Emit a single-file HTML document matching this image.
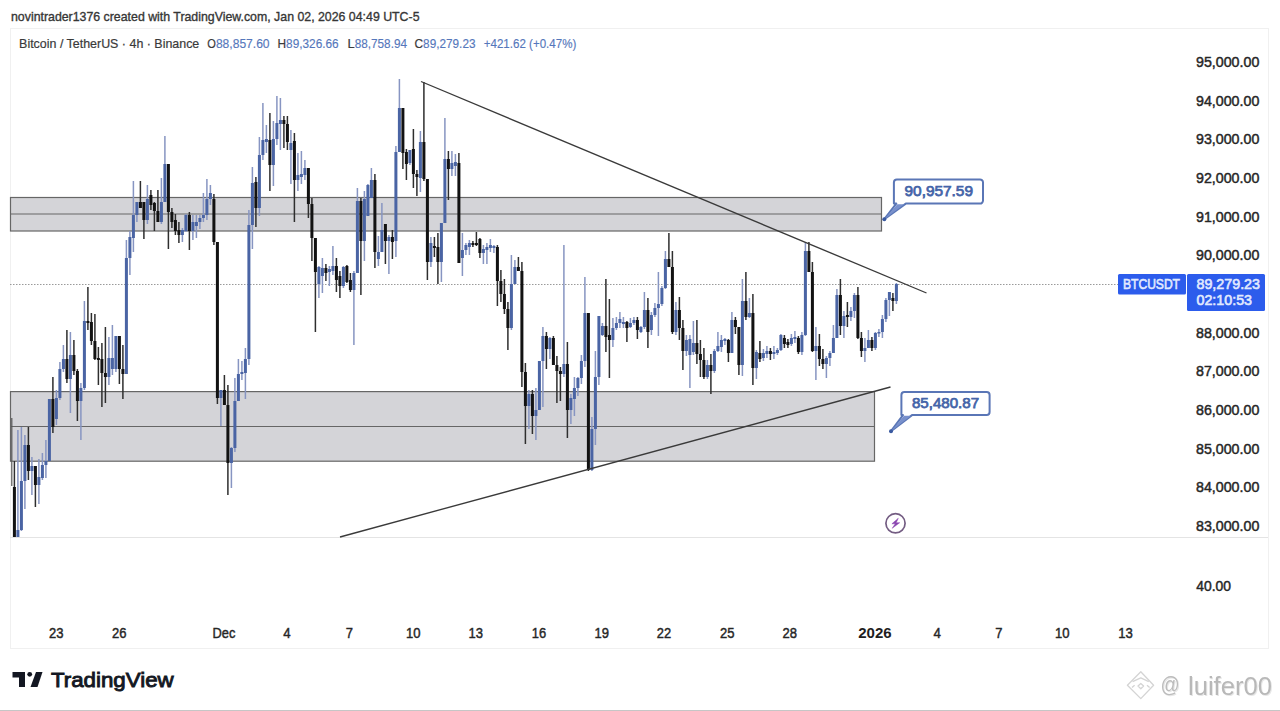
<!DOCTYPE html>
<html><head><meta charset="utf-8">
<style>
html,body{margin:0;padding:0;background:#fff;}
body{width:1280px;height:711px;overflow:hidden;position:relative;font-family:"Liberation Sans",sans-serif;color:#131722;}
svg text{font-family:"Liberation Sans",sans-serif;}
.tvtext{position:absolute;left:50px;top:666px;font-size:21px;font-weight:bold;color:#131722;letter-spacing:-0.2px;}
.wm{position:absolute;left:1186px;top:670px;font-size:25px;color:#b4b4b4;text-shadow:1px 1px 0 #e8e8e8;white-space:nowrap;}
.wmat{position:absolute;left:1159px;top:670px;font-size:22px;color:#b4b4b4;}
</style></head><body>
<svg width="1280" height="711" style="position:absolute;left:0;top:0">
<rect x="10.5" y="28.5" width="1258" height="620" fill="none" stroke="#f0f0f0" stroke-width="1"/>
<line x1="10" y1="537.5" x2="1268" y2="537.5" stroke="#e4e4e4" stroke-width="1"/>
<line x1="10" y1="284.5" x2="1118" y2="284.5" stroke="#9a9a9a" stroke-width="1" stroke-dasharray="1.5 1.5"/>
<rect x="10.5" y="197.5" width="871" height="33.5" fill="#d4d4d8" stroke="#666" stroke-width="1.2"/>
<line x1="10" y1="214" x2="881.5" y2="214" stroke="#666" stroke-width="1.2"/>
<rect x="10.5" y="391.6" width="864" height="69.6" fill="#d4d4d8" stroke="#666" stroke-width="1.2"/>
<line x1="10" y1="426.5" x2="874.5" y2="426.5" stroke="#666" stroke-width="1.2"/>
<rect x="11.2" y="418" width="1.2" height="68" fill="#555"/>
<rect x="13.65" y="461.0" width="1.5" height="76.0" fill="#2e2e2e"/>
<rect x="12.90" y="487.0" width="3.0" height="50.0" fill="#121212"/>
<rect x="17.15" y="430.0" width="1.5" height="107.0" fill="#8795c2"/>
<rect x="16.40" y="530.0" width="3.0" height="7.0" fill="#4a64a4"/>
<rect x="20.65" y="427.0" width="1.5" height="104.0" fill="#8795c2"/>
<rect x="19.90" y="481.0" width="3.0" height="49.0" fill="#4a64a4"/>
<rect x="24.15" y="435.0" width="1.5" height="74.0" fill="#8795c2"/>
<rect x="23.40" y="445.0" width="3.0" height="36.0" fill="#4a64a4"/>
<rect x="27.65" y="427.0" width="1.5" height="53.0" fill="#2e2e2e"/>
<rect x="26.90" y="445.0" width="3.0" height="26.0" fill="#121212"/>
<rect x="31.15" y="457.0" width="1.5" height="38.0" fill="#8795c2"/>
<rect x="30.40" y="466.0" width="3.0" height="5.0" fill="#4a64a4"/>
<rect x="34.65" y="466.0" width="1.5" height="41.0" fill="#2e2e2e"/>
<rect x="33.90" y="466.0" width="3.0" height="19.0" fill="#121212"/>
<rect x="38.15" y="459.0" width="1.5" height="45.0" fill="#8795c2"/>
<rect x="37.40" y="477.0" width="3.0" height="8.0" fill="#4a64a4"/>
<rect x="41.65" y="453.0" width="1.5" height="27.0" fill="#8795c2"/>
<rect x="40.90" y="465.0" width="3.0" height="13.0" fill="#4a64a4"/>
<rect x="45.15" y="440.0" width="1.5" height="38.0" fill="#8795c2"/>
<rect x="44.40" y="461.0" width="3.0" height="4.0" fill="#4a64a4"/>
<rect x="48.65" y="399.0" width="1.5" height="62.0" fill="#8795c2"/>
<rect x="47.90" y="399.0" width="3.0" height="62.0" fill="#4a64a4"/>
<rect x="52.15" y="377.0" width="1.5" height="56.0" fill="#2e2e2e"/>
<rect x="51.40" y="399.0" width="3.0" height="28.0" fill="#121212"/>
<rect x="55.65" y="390.0" width="1.5" height="35.0" fill="#8795c2"/>
<rect x="54.90" y="398.0" width="3.0" height="21.0" fill="#4a64a4"/>
<rect x="59.15" y="362.0" width="1.5" height="38.0" fill="#8795c2"/>
<rect x="58.40" y="369.0" width="3.0" height="29.0" fill="#4a64a4"/>
<rect x="62.65" y="345.0" width="1.5" height="27.0" fill="#8795c2"/>
<rect x="61.90" y="359.0" width="3.0" height="10.0" fill="#4a64a4"/>
<rect x="66.15" y="330.0" width="1.5" height="53.0" fill="#2e2e2e"/>
<rect x="65.40" y="359.0" width="3.0" height="20.0" fill="#121212"/>
<rect x="69.65" y="332.0" width="1.5" height="81.0" fill="#8795c2"/>
<rect x="68.90" y="355.0" width="3.0" height="24.0" fill="#4a64a4"/>
<rect x="73.15" y="340.0" width="1.5" height="35.0" fill="#2e2e2e"/>
<rect x="72.40" y="355.0" width="3.0" height="16.0" fill="#121212"/>
<rect x="76.65" y="369.0" width="1.5" height="52.0" fill="#2e2e2e"/>
<rect x="75.90" y="371.0" width="3.0" height="30.0" fill="#121212"/>
<rect x="80.15" y="383.0" width="1.5" height="57.0" fill="#8795c2"/>
<rect x="79.40" y="388.0" width="3.0" height="13.0" fill="#4a64a4"/>
<rect x="83.65" y="301.0" width="1.5" height="89.0" fill="#8795c2"/>
<rect x="82.90" y="321.0" width="3.0" height="67.0" fill="#4a64a4"/>
<rect x="87.15" y="287.0" width="1.5" height="43.0" fill="#2e2e2e"/>
<rect x="86.40" y="321.0" width="3.0" height="2.0" fill="#121212"/>
<rect x="90.65" y="313.0" width="1.5" height="32.0" fill="#2e2e2e"/>
<rect x="89.90" y="322.0" width="3.0" height="19.0" fill="#121212"/>
<rect x="94.15" y="314.0" width="1.5" height="46.0" fill="#2e2e2e"/>
<rect x="93.40" y="341.0" width="3.0" height="18.0" fill="#121212"/>
<rect x="97.65" y="347.0" width="1.5" height="38.0" fill="#2e2e2e"/>
<rect x="96.90" y="358.0" width="3.0" height="2.0" fill="#121212"/>
<rect x="101.15" y="343.0" width="1.5" height="64.0" fill="#2e2e2e"/>
<rect x="100.40" y="359.0" width="3.0" height="14.0" fill="#121212"/>
<rect x="104.65" y="327.0" width="1.5" height="76.0" fill="#2e2e2e"/>
<rect x="103.90" y="373.0" width="3.0" height="4.0" fill="#121212"/>
<rect x="108.15" y="337.0" width="1.5" height="48.0" fill="#8795c2"/>
<rect x="107.40" y="358.0" width="3.0" height="19.0" fill="#4a64a4"/>
<rect x="111.65" y="325.0" width="1.5" height="50.0" fill="#8795c2"/>
<rect x="110.90" y="358.0" width="3.0" height="11.0" fill="#4a64a4"/>
<rect x="115.15" y="336.0" width="1.5" height="36.0" fill="#8795c2"/>
<rect x="114.40" y="336.0" width="3.0" height="33.0" fill="#4a64a4"/>
<rect x="118.65" y="336.0" width="1.5" height="48.0" fill="#2e2e2e"/>
<rect x="117.90" y="336.0" width="3.0" height="33.0" fill="#121212"/>
<rect x="122.15" y="345.0" width="1.5" height="54.0" fill="#2e2e2e"/>
<rect x="121.40" y="369.0" width="3.0" height="5.0" fill="#121212"/>
<rect x="125.65" y="240.0" width="1.5" height="134.0" fill="#8795c2"/>
<rect x="124.90" y="258.0" width="3.0" height="116.0" fill="#4a64a4"/>
<rect x="129.15" y="231.0" width="1.5" height="44.0" fill="#8795c2"/>
<rect x="128.40" y="237.0" width="3.0" height="21.0" fill="#4a64a4"/>
<rect x="132.65" y="181.0" width="1.5" height="71.0" fill="#8795c2"/>
<rect x="131.90" y="215.0" width="3.0" height="23.0" fill="#4a64a4"/>
<rect x="136.15" y="202.0" width="1.5" height="20.0" fill="#8795c2"/>
<rect x="135.40" y="202.0" width="3.0" height="13.0" fill="#4a64a4"/>
<rect x="139.65" y="181.0" width="1.5" height="27.0" fill="#2e2e2e"/>
<rect x="138.90" y="202.0" width="3.0" height="6.0" fill="#121212"/>
<rect x="143.15" y="202.0" width="1.5" height="37.0" fill="#2e2e2e"/>
<rect x="142.40" y="202.0" width="3.0" height="18.0" fill="#121212"/>
<rect x="146.65" y="185.0" width="1.5" height="39.0" fill="#8795c2"/>
<rect x="145.90" y="199.0" width="3.0" height="21.0" fill="#4a64a4"/>
<rect x="150.15" y="190.0" width="1.5" height="20.0" fill="#2e2e2e"/>
<rect x="149.40" y="195.0" width="3.0" height="10.0" fill="#121212"/>
<rect x="153.65" y="202.0" width="1.5" height="29.0" fill="#2e2e2e"/>
<rect x="152.90" y="203.0" width="3.0" height="8.0" fill="#121212"/>
<rect x="157.15" y="190.0" width="1.5" height="32.0" fill="#2e2e2e"/>
<rect x="156.40" y="211.0" width="3.0" height="11.0" fill="#121212"/>
<rect x="160.65" y="178.0" width="1.5" height="46.0" fill="#8795c2"/>
<rect x="159.90" y="202.0" width="3.0" height="20.0" fill="#4a64a4"/>
<rect x="164.15" y="136.0" width="1.5" height="66.0" fill="#8795c2"/>
<rect x="163.40" y="164.0" width="3.0" height="38.0" fill="#4a64a4"/>
<rect x="167.65" y="164.0" width="1.5" height="85.0" fill="#2e2e2e"/>
<rect x="166.90" y="164.0" width="3.0" height="48.0" fill="#121212"/>
<rect x="171.15" y="208.0" width="1.5" height="20.0" fill="#2e2e2e"/>
<rect x="170.40" y="212.0" width="3.0" height="10.0" fill="#121212"/>
<rect x="174.65" y="214.0" width="1.5" height="21.0" fill="#2e2e2e"/>
<rect x="173.90" y="220.0" width="3.0" height="11.0" fill="#121212"/>
<rect x="178.15" y="222.0" width="1.5" height="21.0" fill="#2e2e2e"/>
<rect x="177.40" y="230.0" width="3.0" height="5.0" fill="#121212"/>
<rect x="181.65" y="228.0" width="1.5" height="14.0" fill="#8795c2"/>
<rect x="180.90" y="230.0" width="3.0" height="5.0" fill="#4a64a4"/>
<rect x="185.15" y="214.0" width="1.5" height="18.0" fill="#8795c2"/>
<rect x="184.40" y="215.0" width="3.0" height="16.0" fill="#4a64a4"/>
<rect x="188.65" y="212.0" width="1.5" height="38.0" fill="#2e2e2e"/>
<rect x="187.90" y="215.0" width="3.0" height="16.0" fill="#121212"/>
<rect x="192.15" y="215.0" width="1.5" height="25.0" fill="#8795c2"/>
<rect x="191.40" y="222.0" width="3.0" height="9.0" fill="#4a64a4"/>
<rect x="195.65" y="215.0" width="1.5" height="23.0" fill="#8795c2"/>
<rect x="194.90" y="222.0" width="3.0" height="4.0" fill="#4a64a4"/>
<rect x="199.15" y="215.0" width="1.5" height="14.0" fill="#8795c2"/>
<rect x="198.40" y="218.0" width="3.0" height="4.0" fill="#4a64a4"/>
<rect x="202.65" y="193.0" width="1.5" height="29.0" fill="#8795c2"/>
<rect x="201.90" y="215.0" width="3.0" height="3.0" fill="#4a64a4"/>
<rect x="206.15" y="179.0" width="1.5" height="41.0" fill="#8795c2"/>
<rect x="205.40" y="199.0" width="3.0" height="16.0" fill="#4a64a4"/>
<rect x="209.65" y="185.0" width="1.5" height="20.0" fill="#8795c2"/>
<rect x="208.90" y="193.0" width="3.0" height="6.0" fill="#4a64a4"/>
<rect x="213.15" y="194.0" width="1.5" height="51.0" fill="#2e2e2e"/>
<rect x="212.40" y="199.0" width="3.0" height="43.0" fill="#121212"/>
<rect x="216.65" y="242.0" width="1.5" height="162.0" fill="#2e2e2e"/>
<rect x="215.90" y="242.0" width="3.0" height="156.0" fill="#121212"/>
<rect x="220.15" y="390.0" width="1.5" height="36.0" fill="#8795c2"/>
<rect x="219.40" y="390.0" width="3.0" height="8.0" fill="#4a64a4"/>
<rect x="223.65" y="375.0" width="1.5" height="30.0" fill="#2e2e2e"/>
<rect x="222.90" y="390.0" width="3.0" height="15.0" fill="#121212"/>
<rect x="227.15" y="385.0" width="1.5" height="110.0" fill="#2e2e2e"/>
<rect x="226.40" y="405.0" width="3.0" height="58.0" fill="#121212"/>
<rect x="230.65" y="447.0" width="1.5" height="41.0" fill="#8795c2"/>
<rect x="229.90" y="448.0" width="3.0" height="15.0" fill="#4a64a4"/>
<rect x="234.15" y="378.0" width="1.5" height="74.0" fill="#8795c2"/>
<rect x="233.40" y="401.0" width="3.0" height="47.0" fill="#4a64a4"/>
<rect x="237.65" y="359.0" width="1.5" height="42.0" fill="#8795c2"/>
<rect x="236.90" y="374.0" width="3.0" height="27.0" fill="#4a64a4"/>
<rect x="241.15" y="361.0" width="1.5" height="19.0" fill="#8795c2"/>
<rect x="240.40" y="372.0" width="3.0" height="2.0" fill="#4a64a4"/>
<rect x="244.65" y="348.0" width="1.5" height="51.0" fill="#8795c2"/>
<rect x="243.90" y="359.0" width="3.0" height="14.0" fill="#4a64a4"/>
<rect x="248.15" y="210.0" width="1.5" height="155.0" fill="#8795c2"/>
<rect x="247.40" y="225.0" width="3.0" height="134.0" fill="#4a64a4"/>
<rect x="251.65" y="167.0" width="1.5" height="82.0" fill="#8795c2"/>
<rect x="250.90" y="183.0" width="3.0" height="42.0" fill="#4a64a4"/>
<rect x="255.15" y="177.0" width="1.5" height="50.0" fill="#2e2e2e"/>
<rect x="254.40" y="182.0" width="3.0" height="26.0" fill="#121212"/>
<rect x="258.65" y="137.0" width="1.5" height="79.0" fill="#8795c2"/>
<rect x="257.90" y="155.0" width="3.0" height="53.0" fill="#4a64a4"/>
<rect x="262.15" y="103.0" width="1.5" height="57.0" fill="#8795c2"/>
<rect x="261.40" y="140.0" width="3.0" height="15.0" fill="#4a64a4"/>
<rect x="265.65" y="125.0" width="1.5" height="28.0" fill="#8795c2"/>
<rect x="264.90" y="139.0" width="3.0" height="3.0" fill="#4a64a4"/>
<rect x="269.15" y="113.0" width="1.5" height="78.0" fill="#2e2e2e"/>
<rect x="268.40" y="140.0" width="3.0" height="25.0" fill="#121212"/>
<rect x="272.65" y="121.0" width="1.5" height="65.0" fill="#8795c2"/>
<rect x="271.90" y="139.0" width="3.0" height="26.0" fill="#4a64a4"/>
<rect x="276.15" y="96.0" width="1.5" height="49.0" fill="#8795c2"/>
<rect x="275.40" y="123.0" width="3.0" height="16.0" fill="#4a64a4"/>
<rect x="279.65" y="98.0" width="1.5" height="52.0" fill="#8795c2"/>
<rect x="278.90" y="120.0" width="3.0" height="4.0" fill="#4a64a4"/>
<rect x="283.15" y="116.0" width="1.5" height="32.0" fill="#2e2e2e"/>
<rect x="282.40" y="120.0" width="3.0" height="4.0" fill="#121212"/>
<rect x="286.65" y="116.0" width="1.5" height="34.0" fill="#2e2e2e"/>
<rect x="285.90" y="124.0" width="3.0" height="18.0" fill="#121212"/>
<rect x="290.15" y="130.0" width="1.5" height="54.0" fill="#8795c2"/>
<rect x="289.40" y="143.0" width="3.0" height="7.0" fill="#4a64a4"/>
<rect x="293.65" y="133.0" width="1.5" height="89.0" fill="#2e2e2e"/>
<rect x="292.90" y="141.0" width="3.0" height="39.0" fill="#121212"/>
<rect x="297.15" y="153.0" width="1.5" height="38.0" fill="#8795c2"/>
<rect x="296.40" y="175.0" width="3.0" height="5.0" fill="#4a64a4"/>
<rect x="300.65" y="151.0" width="1.5" height="33.0" fill="#8795c2"/>
<rect x="299.90" y="174.0" width="3.0" height="3.0" fill="#4a64a4"/>
<rect x="304.15" y="160.0" width="1.5" height="20.0" fill="#8795c2"/>
<rect x="303.40" y="168.0" width="3.0" height="7.0" fill="#4a64a4"/>
<rect x="307.65" y="168.0" width="1.5" height="50.0" fill="#2e2e2e"/>
<rect x="306.90" y="168.0" width="3.0" height="36.0" fill="#121212"/>
<rect x="311.15" y="198.0" width="1.5" height="63.0" fill="#2e2e2e"/>
<rect x="310.40" y="204.0" width="3.0" height="34.0" fill="#121212"/>
<rect x="314.65" y="238.0" width="1.5" height="94.0" fill="#2e2e2e"/>
<rect x="313.90" y="238.0" width="3.0" height="34.0" fill="#121212"/>
<rect x="318.15" y="266.0" width="1.5" height="32.0" fill="#8795c2"/>
<rect x="317.40" y="267.0" width="3.0" height="17.0" fill="#4a64a4"/>
<rect x="321.65" y="258.0" width="1.5" height="35.0" fill="#8795c2"/>
<rect x="320.90" y="268.0" width="3.0" height="8.0" fill="#4a64a4"/>
<rect x="325.15" y="264.0" width="1.5" height="17.0" fill="#2e2e2e"/>
<rect x="324.40" y="268.0" width="3.0" height="5.0" fill="#121212"/>
<rect x="328.65" y="266.0" width="1.5" height="20.0" fill="#8795c2"/>
<rect x="327.90" y="269.0" width="3.0" height="3.0" fill="#4a64a4"/>
<rect x="332.15" y="246.0" width="1.5" height="29.0" fill="#8795c2"/>
<rect x="331.40" y="266.0" width="3.0" height="5.0" fill="#4a64a4"/>
<rect x="335.65" y="258.0" width="1.5" height="34.0" fill="#2e2e2e"/>
<rect x="334.90" y="266.0" width="3.0" height="14.0" fill="#121212"/>
<rect x="339.15" y="271.0" width="1.5" height="27.0" fill="#2e2e2e"/>
<rect x="338.40" y="276.0" width="3.0" height="10.0" fill="#121212"/>
<rect x="342.65" y="266.0" width="1.5" height="22.0" fill="#8795c2"/>
<rect x="341.90" y="267.0" width="3.0" height="19.0" fill="#4a64a4"/>
<rect x="346.15" y="265.0" width="1.5" height="18.0" fill="#2e2e2e"/>
<rect x="345.40" y="266.0" width="3.0" height="16.0" fill="#121212"/>
<rect x="349.65" y="273.0" width="1.5" height="19.0" fill="#2e2e2e"/>
<rect x="348.90" y="280.0" width="3.0" height="10.0" fill="#121212"/>
<rect x="353.15" y="271.0" width="1.5" height="74.0" fill="#8795c2"/>
<rect x="352.40" y="273.0" width="3.0" height="17.0" fill="#4a64a4"/>
<rect x="356.65" y="188.0" width="1.5" height="85.0" fill="#8795c2"/>
<rect x="355.90" y="201.0" width="3.0" height="72.0" fill="#4a64a4"/>
<rect x="360.15" y="198.0" width="1.5" height="97.0" fill="#2e2e2e"/>
<rect x="359.40" y="201.0" width="3.0" height="40.0" fill="#121212"/>
<rect x="363.65" y="191.0" width="1.5" height="70.0" fill="#8795c2"/>
<rect x="362.90" y="199.0" width="3.0" height="42.0" fill="#4a64a4"/>
<rect x="367.15" y="184.0" width="1.5" height="32.0" fill="#8795c2"/>
<rect x="366.40" y="185.0" width="3.0" height="31.0" fill="#4a64a4"/>
<rect x="370.65" y="168.0" width="1.5" height="30.0" fill="#8795c2"/>
<rect x="369.90" y="180.0" width="3.0" height="18.0" fill="#4a64a4"/>
<rect x="374.15" y="174.0" width="1.5" height="94.0" fill="#2e2e2e"/>
<rect x="373.40" y="180.0" width="3.0" height="72.0" fill="#121212"/>
<rect x="377.65" y="236.0" width="1.5" height="30.0" fill="#8795c2"/>
<rect x="376.90" y="252.0" width="3.0" height="7.0" fill="#4a64a4"/>
<rect x="381.15" y="203.0" width="1.5" height="49.0" fill="#8795c2"/>
<rect x="380.40" y="230.0" width="3.0" height="22.0" fill="#4a64a4"/>
<rect x="384.65" y="224.0" width="1.5" height="40.0" fill="#2e2e2e"/>
<rect x="383.90" y="224.0" width="3.0" height="17.0" fill="#121212"/>
<rect x="388.15" y="235.0" width="1.5" height="39.0" fill="#8795c2"/>
<rect x="387.40" y="237.0" width="3.0" height="4.0" fill="#4a64a4"/>
<rect x="391.65" y="230.0" width="1.5" height="29.0" fill="#2e2e2e"/>
<rect x="390.90" y="237.0" width="3.0" height="5.0" fill="#121212"/>
<rect x="395.15" y="146.0" width="1.5" height="111.0" fill="#8795c2"/>
<rect x="394.40" y="152.0" width="3.0" height="89.0" fill="#4a64a4"/>
<rect x="398.65" y="79.0" width="1.5" height="73.0" fill="#8795c2"/>
<rect x="397.90" y="108.0" width="3.0" height="44.0" fill="#4a64a4"/>
<rect x="402.15" y="108.0" width="1.5" height="61.0" fill="#2e2e2e"/>
<rect x="401.40" y="108.0" width="3.0" height="45.0" fill="#121212"/>
<rect x="405.65" y="149.0" width="1.5" height="31.0" fill="#2e2e2e"/>
<rect x="404.90" y="152.0" width="3.0" height="12.0" fill="#121212"/>
<rect x="409.15" y="150.0" width="1.5" height="15.0" fill="#8795c2"/>
<rect x="408.40" y="150.0" width="3.0" height="13.0" fill="#4a64a4"/>
<rect x="412.65" y="129.0" width="1.5" height="59.0" fill="#2e2e2e"/>
<rect x="411.90" y="149.0" width="3.0" height="25.0" fill="#121212"/>
<rect x="416.15" y="170.0" width="1.5" height="26.0" fill="#2e2e2e"/>
<rect x="415.40" y="174.0" width="3.0" height="3.0" fill="#121212"/>
<rect x="419.65" y="131.0" width="1.5" height="61.0" fill="#8795c2"/>
<rect x="418.90" y="142.0" width="3.0" height="36.0" fill="#4a64a4"/>
<rect x="423.15" y="82.0" width="1.5" height="99.0" fill="#2e2e2e"/>
<rect x="422.40" y="142.0" width="3.0" height="37.0" fill="#121212"/>
<rect x="426.65" y="179.0" width="1.5" height="101.0" fill="#2e2e2e"/>
<rect x="425.90" y="179.0" width="3.0" height="83.0" fill="#121212"/>
<rect x="430.15" y="237.0" width="1.5" height="30.0" fill="#8795c2"/>
<rect x="429.40" y="243.0" width="3.0" height="19.0" fill="#4a64a4"/>
<rect x="433.65" y="237.0" width="1.5" height="20.0" fill="#2e2e2e"/>
<rect x="432.90" y="246.0" width="3.0" height="2.0" fill="#121212"/>
<rect x="437.15" y="233.0" width="1.5" height="51.0" fill="#2e2e2e"/>
<rect x="436.40" y="247.0" width="3.0" height="15.0" fill="#121212"/>
<rect x="440.65" y="223.0" width="1.5" height="59.0" fill="#8795c2"/>
<rect x="439.90" y="223.0" width="3.0" height="39.0" fill="#4a64a4"/>
<rect x="444.15" y="118.0" width="1.5" height="105.0" fill="#8795c2"/>
<rect x="443.40" y="159.0" width="3.0" height="64.0" fill="#4a64a4"/>
<rect x="447.65" y="151.0" width="1.5" height="49.0" fill="#2e2e2e"/>
<rect x="446.90" y="159.0" width="3.0" height="10.0" fill="#121212"/>
<rect x="451.15" y="151.0" width="1.5" height="25.0" fill="#8795c2"/>
<rect x="450.40" y="163.0" width="3.0" height="6.0" fill="#4a64a4"/>
<rect x="454.65" y="154.0" width="1.5" height="22.0" fill="#8795c2"/>
<rect x="453.90" y="162.0" width="3.0" height="4.0" fill="#4a64a4"/>
<rect x="458.15" y="153.0" width="1.5" height="110.0" fill="#2e2e2e"/>
<rect x="457.40" y="163.0" width="3.0" height="100.0" fill="#121212"/>
<rect x="461.65" y="233.0" width="1.5" height="43.0" fill="#8795c2"/>
<rect x="460.90" y="250.0" width="3.0" height="8.0" fill="#4a64a4"/>
<rect x="465.15" y="243.0" width="1.5" height="12.0" fill="#8795c2"/>
<rect x="464.40" y="245.0" width="3.0" height="5.0" fill="#4a64a4"/>
<rect x="468.65" y="240.0" width="1.5" height="15.0" fill="#8795c2"/>
<rect x="467.90" y="243.0" width="3.0" height="4.0" fill="#4a64a4"/>
<rect x="472.15" y="241.0" width="1.5" height="6.0" fill="#2e2e2e"/>
<rect x="471.40" y="243.0" width="3.0" height="2.0" fill="#121212"/>
<rect x="475.65" y="232.0" width="1.5" height="14.0" fill="#2e2e2e"/>
<rect x="474.90" y="243.0" width="3.0" height="2.0" fill="#121212"/>
<rect x="479.15" y="238.0" width="1.5" height="20.0" fill="#2e2e2e"/>
<rect x="478.40" y="239.0" width="3.0" height="14.0" fill="#121212"/>
<rect x="482.65" y="245.0" width="1.5" height="19.0" fill="#8795c2"/>
<rect x="481.90" y="249.0" width="3.0" height="4.0" fill="#4a64a4"/>
<rect x="486.15" y="243.0" width="1.5" height="21.0" fill="#8795c2"/>
<rect x="485.40" y="247.0" width="3.0" height="3.0" fill="#4a64a4"/>
<rect x="489.65" y="239.0" width="1.5" height="13.0" fill="#8795c2"/>
<rect x="488.90" y="245.0" width="3.0" height="3.0" fill="#4a64a4"/>
<rect x="493.15" y="245.0" width="1.5" height="8.0" fill="#8795c2"/>
<rect x="492.40" y="246.0" width="3.0" height="2.0" fill="#4a64a4"/>
<rect x="496.65" y="245.0" width="1.5" height="61.0" fill="#2e2e2e"/>
<rect x="495.90" y="247.0" width="3.0" height="34.0" fill="#121212"/>
<rect x="500.15" y="270.0" width="1.5" height="32.0" fill="#2e2e2e"/>
<rect x="499.40" y="281.0" width="3.0" height="13.0" fill="#121212"/>
<rect x="503.65" y="279.0" width="1.5" height="35.0" fill="#2e2e2e"/>
<rect x="502.90" y="294.0" width="3.0" height="15.0" fill="#121212"/>
<rect x="507.15" y="302.0" width="1.5" height="48.0" fill="#2e2e2e"/>
<rect x="506.40" y="309.0" width="3.0" height="19.0" fill="#121212"/>
<rect x="510.65" y="255.0" width="1.5" height="75.0" fill="#8795c2"/>
<rect x="509.90" y="284.0" width="3.0" height="44.0" fill="#4a64a4"/>
<rect x="514.15" y="260.0" width="1.5" height="24.0" fill="#8795c2"/>
<rect x="513.40" y="267.0" width="3.0" height="17.0" fill="#4a64a4"/>
<rect x="517.65" y="257.0" width="1.5" height="14.0" fill="#2e2e2e"/>
<rect x="516.90" y="267.0" width="3.0" height="4.0" fill="#121212"/>
<rect x="521.15" y="262.0" width="1.5" height="125.0" fill="#2e2e2e"/>
<rect x="520.40" y="271.0" width="3.0" height="101.0" fill="#121212"/>
<rect x="524.65" y="363.0" width="1.5" height="81.0" fill="#2e2e2e"/>
<rect x="523.90" y="372.0" width="3.0" height="34.0" fill="#121212"/>
<rect x="528.15" y="390.0" width="1.5" height="39.0" fill="#8795c2"/>
<rect x="527.40" y="394.0" width="3.0" height="12.0" fill="#4a64a4"/>
<rect x="531.65" y="390.0" width="1.5" height="44.0" fill="#2e2e2e"/>
<rect x="530.90" y="394.0" width="3.0" height="22.0" fill="#121212"/>
<rect x="535.15" y="388.0" width="1.5" height="52.0" fill="#8795c2"/>
<rect x="534.40" y="410.0" width="3.0" height="6.0" fill="#4a64a4"/>
<rect x="538.65" y="361.0" width="1.5" height="49.0" fill="#8795c2"/>
<rect x="537.90" y="361.0" width="3.0" height="49.0" fill="#4a64a4"/>
<rect x="542.15" y="327.0" width="1.5" height="80.0" fill="#8795c2"/>
<rect x="541.40" y="336.0" width="3.0" height="25.0" fill="#4a64a4"/>
<rect x="545.65" y="332.0" width="1.5" height="37.0" fill="#2e2e2e"/>
<rect x="544.90" y="336.0" width="3.0" height="13.0" fill="#121212"/>
<rect x="549.15" y="337.0" width="1.5" height="22.0" fill="#8795c2"/>
<rect x="548.40" y="338.0" width="3.0" height="11.0" fill="#4a64a4"/>
<rect x="552.65" y="336.0" width="1.5" height="29.0" fill="#2e2e2e"/>
<rect x="551.90" y="338.0" width="3.0" height="27.0" fill="#121212"/>
<rect x="556.15" y="356.0" width="1.5" height="47.0" fill="#2e2e2e"/>
<rect x="555.40" y="365.0" width="3.0" height="6.0" fill="#121212"/>
<rect x="559.65" y="367.0" width="1.5" height="34.0" fill="#2e2e2e"/>
<rect x="558.90" y="371.0" width="3.0" height="3.0" fill="#121212"/>
<rect x="563.15" y="245.0" width="1.5" height="132.0" fill="#8795c2"/>
<rect x="562.40" y="364.0" width="3.0" height="10.0" fill="#4a64a4"/>
<rect x="566.65" y="342.0" width="1.5" height="96.0" fill="#2e2e2e"/>
<rect x="565.90" y="364.0" width="3.0" height="46.0" fill="#121212"/>
<rect x="570.15" y="394.0" width="1.5" height="30.0" fill="#8795c2"/>
<rect x="569.40" y="398.0" width="3.0" height="12.0" fill="#4a64a4"/>
<rect x="573.65" y="377.0" width="1.5" height="39.0" fill="#8795c2"/>
<rect x="572.90" y="388.0" width="3.0" height="11.0" fill="#4a64a4"/>
<rect x="577.15" y="377.0" width="1.5" height="19.0" fill="#8795c2"/>
<rect x="576.40" y="378.0" width="3.0" height="10.0" fill="#4a64a4"/>
<rect x="580.65" y="355.0" width="1.5" height="29.0" fill="#8795c2"/>
<rect x="579.90" y="361.0" width="3.0" height="17.0" fill="#4a64a4"/>
<rect x="584.15" y="277.0" width="1.5" height="90.0" fill="#8795c2"/>
<rect x="583.40" y="313.0" width="3.0" height="48.0" fill="#4a64a4"/>
<rect x="587.65" y="313.0" width="1.5" height="158.0" fill="#2e2e2e"/>
<rect x="586.90" y="313.0" width="3.0" height="157.0" fill="#121212"/>
<rect x="591.15" y="417.0" width="1.5" height="54.0" fill="#8795c2"/>
<rect x="590.40" y="429.0" width="3.0" height="41.0" fill="#4a64a4"/>
<rect x="594.65" y="351.0" width="1.5" height="94.0" fill="#8795c2"/>
<rect x="593.90" y="377.0" width="3.0" height="52.0" fill="#4a64a4"/>
<rect x="598.15" y="316.0" width="1.5" height="69.0" fill="#8795c2"/>
<rect x="597.40" y="316.0" width="3.0" height="61.0" fill="#4a64a4"/>
<rect x="601.65" y="323.0" width="1.5" height="13.0" fill="#8795c2"/>
<rect x="600.90" y="326.0" width="3.0" height="9.0" fill="#4a64a4"/>
<rect x="605.15" y="279.0" width="1.5" height="73.0" fill="#2e2e2e"/>
<rect x="604.40" y="326.0" width="3.0" height="11.0" fill="#121212"/>
<rect x="608.65" y="299.0" width="1.5" height="79.0" fill="#2e2e2e"/>
<rect x="607.90" y="335.0" width="3.0" height="5.0" fill="#121212"/>
<rect x="612.15" y="318.0" width="1.5" height="29.0" fill="#8795c2"/>
<rect x="611.40" y="328.0" width="3.0" height="12.0" fill="#4a64a4"/>
<rect x="615.65" y="317.0" width="1.5" height="13.0" fill="#8795c2"/>
<rect x="614.90" y="323.0" width="3.0" height="5.0" fill="#4a64a4"/>
<rect x="619.15" y="312.0" width="1.5" height="16.0" fill="#8795c2"/>
<rect x="618.40" y="319.0" width="3.0" height="4.0" fill="#4a64a4"/>
<rect x="622.65" y="317.0" width="1.5" height="11.0" fill="#8795c2"/>
<rect x="621.90" y="322.0" width="3.0" height="2.0" fill="#4a64a4"/>
<rect x="626.15" y="321.0" width="1.5" height="21.0" fill="#2e2e2e"/>
<rect x="625.40" y="322.0" width="3.0" height="6.0" fill="#121212"/>
<rect x="629.65" y="318.0" width="1.5" height="10.0" fill="#8795c2"/>
<rect x="628.90" y="323.0" width="3.0" height="4.0" fill="#4a64a4"/>
<rect x="633.15" y="317.0" width="1.5" height="8.0" fill="#8795c2"/>
<rect x="632.40" y="320.0" width="3.0" height="3.0" fill="#4a64a4"/>
<rect x="636.65" y="317.0" width="1.5" height="22.0" fill="#2e2e2e"/>
<rect x="635.90" y="320.0" width="3.0" height="10.0" fill="#121212"/>
<rect x="640.15" y="326.0" width="1.5" height="7.0" fill="#8795c2"/>
<rect x="639.40" y="327.0" width="3.0" height="5.0" fill="#4a64a4"/>
<rect x="643.65" y="292.0" width="1.5" height="37.0" fill="#8795c2"/>
<rect x="642.90" y="310.0" width="3.0" height="17.0" fill="#4a64a4"/>
<rect x="647.15" y="298.0" width="1.5" height="50.0" fill="#2e2e2e"/>
<rect x="646.40" y="310.0" width="3.0" height="22.0" fill="#121212"/>
<rect x="650.65" y="312.0" width="1.5" height="23.0" fill="#8795c2"/>
<rect x="649.90" y="315.0" width="3.0" height="15.0" fill="#4a64a4"/>
<rect x="654.15" y="303.0" width="1.5" height="14.0" fill="#8795c2"/>
<rect x="653.40" y="308.0" width="3.0" height="7.0" fill="#4a64a4"/>
<rect x="657.65" y="272.0" width="1.5" height="64.0" fill="#8795c2"/>
<rect x="656.90" y="304.0" width="3.0" height="4.0" fill="#4a64a4"/>
<rect x="661.15" y="286.0" width="1.5" height="20.0" fill="#8795c2"/>
<rect x="660.40" y="288.0" width="3.0" height="16.0" fill="#4a64a4"/>
<rect x="664.65" y="251.0" width="1.5" height="38.0" fill="#8795c2"/>
<rect x="663.90" y="259.0" width="3.0" height="29.0" fill="#4a64a4"/>
<rect x="668.15" y="233.0" width="1.5" height="34.0" fill="#2e2e2e"/>
<rect x="667.40" y="259.0" width="3.0" height="8.0" fill="#121212"/>
<rect x="671.65" y="251.0" width="1.5" height="83.0" fill="#2e2e2e"/>
<rect x="670.90" y="267.0" width="3.0" height="65.0" fill="#121212"/>
<rect x="675.15" y="302.0" width="1.5" height="33.0" fill="#8795c2"/>
<rect x="674.40" y="310.0" width="3.0" height="22.0" fill="#4a64a4"/>
<rect x="678.65" y="297.0" width="1.5" height="43.0" fill="#2e2e2e"/>
<rect x="677.90" y="310.0" width="3.0" height="18.0" fill="#121212"/>
<rect x="682.15" y="320.0" width="1.5" height="50.0" fill="#2e2e2e"/>
<rect x="681.40" y="328.0" width="3.0" height="23.0" fill="#121212"/>
<rect x="685.65" y="335.0" width="1.5" height="21.0" fill="#8795c2"/>
<rect x="684.90" y="340.0" width="3.0" height="11.0" fill="#4a64a4"/>
<rect x="689.15" y="335.0" width="1.5" height="53.0" fill="#8795c2"/>
<rect x="688.40" y="339.0" width="3.0" height="16.0" fill="#4a64a4"/>
<rect x="692.65" y="321.0" width="1.5" height="34.0" fill="#8795c2"/>
<rect x="691.90" y="343.0" width="3.0" height="9.0" fill="#4a64a4"/>
<rect x="696.15" y="320.0" width="1.5" height="44.0" fill="#2e2e2e"/>
<rect x="695.40" y="343.0" width="3.0" height="11.0" fill="#121212"/>
<rect x="699.65" y="340.0" width="1.5" height="37.0" fill="#2e2e2e"/>
<rect x="698.90" y="354.0" width="3.0" height="6.0" fill="#121212"/>
<rect x="703.15" y="348.0" width="1.5" height="31.0" fill="#2e2e2e"/>
<rect x="702.40" y="360.0" width="3.0" height="17.0" fill="#121212"/>
<rect x="706.65" y="360.0" width="1.5" height="19.0" fill="#8795c2"/>
<rect x="705.90" y="365.0" width="3.0" height="12.0" fill="#4a64a4"/>
<rect x="710.15" y="354.0" width="1.5" height="40.0" fill="#2e2e2e"/>
<rect x="709.40" y="365.0" width="3.0" height="6.0" fill="#121212"/>
<rect x="713.65" y="349.0" width="1.5" height="24.0" fill="#8795c2"/>
<rect x="712.90" y="351.0" width="3.0" height="20.0" fill="#4a64a4"/>
<rect x="717.15" y="332.0" width="1.5" height="20.0" fill="#8795c2"/>
<rect x="716.40" y="346.0" width="3.0" height="5.0" fill="#4a64a4"/>
<rect x="720.65" y="335.0" width="1.5" height="17.0" fill="#8795c2"/>
<rect x="719.90" y="340.0" width="3.0" height="7.0" fill="#4a64a4"/>
<rect x="724.15" y="338.0" width="1.5" height="7.0" fill="#8795c2"/>
<rect x="723.40" y="339.0" width="3.0" height="2.0" fill="#4a64a4"/>
<rect x="727.65" y="339.0" width="1.5" height="23.0" fill="#2e2e2e"/>
<rect x="726.90" y="340.0" width="3.0" height="13.0" fill="#121212"/>
<rect x="731.15" y="312.0" width="1.5" height="41.0" fill="#8795c2"/>
<rect x="730.40" y="320.0" width="3.0" height="33.0" fill="#4a64a4"/>
<rect x="734.65" y="317.0" width="1.5" height="17.0" fill="#2e2e2e"/>
<rect x="733.90" y="320.0" width="3.0" height="7.0" fill="#121212"/>
<rect x="738.15" y="327.0" width="1.5" height="48.0" fill="#2e2e2e"/>
<rect x="737.40" y="327.0" width="3.0" height="38.0" fill="#121212"/>
<rect x="741.65" y="279.0" width="1.5" height="97.0" fill="#8795c2"/>
<rect x="740.90" y="301.0" width="3.0" height="64.0" fill="#4a64a4"/>
<rect x="745.15" y="272.0" width="1.5" height="48.0" fill="#2e2e2e"/>
<rect x="744.40" y="301.0" width="3.0" height="16.0" fill="#121212"/>
<rect x="748.65" y="298.0" width="1.5" height="20.0" fill="#8795c2"/>
<rect x="747.90" y="313.0" width="3.0" height="4.0" fill="#4a64a4"/>
<rect x="752.15" y="294.0" width="1.5" height="91.0" fill="#2e2e2e"/>
<rect x="751.40" y="313.0" width="3.0" height="55.0" fill="#121212"/>
<rect x="755.65" y="350.0" width="1.5" height="29.0" fill="#8795c2"/>
<rect x="754.90" y="352.0" width="3.0" height="16.0" fill="#4a64a4"/>
<rect x="759.15" y="341.0" width="1.5" height="21.0" fill="#2e2e2e"/>
<rect x="758.40" y="353.0" width="3.0" height="6.0" fill="#121212"/>
<rect x="762.65" y="349.0" width="1.5" height="12.0" fill="#8795c2"/>
<rect x="761.90" y="353.0" width="3.0" height="5.0" fill="#4a64a4"/>
<rect x="766.15" y="346.0" width="1.5" height="12.0" fill="#8795c2"/>
<rect x="765.40" y="351.0" width="3.0" height="3.0" fill="#4a64a4"/>
<rect x="769.65" y="348.0" width="1.5" height="12.0" fill="#2e2e2e"/>
<rect x="768.90" y="351.0" width="3.0" height="3.0" fill="#121212"/>
<rect x="773.15" y="346.0" width="1.5" height="13.0" fill="#8795c2"/>
<rect x="772.40" y="352.0" width="3.0" height="2.0" fill="#4a64a4"/>
<rect x="776.65" y="348.0" width="1.5" height="7.0" fill="#8795c2"/>
<rect x="775.90" y="350.0" width="3.0" height="3.0" fill="#4a64a4"/>
<rect x="780.15" y="334.0" width="1.5" height="17.0" fill="#8795c2"/>
<rect x="779.40" y="335.0" width="3.0" height="15.0" fill="#4a64a4"/>
<rect x="783.65" y="335.0" width="1.5" height="13.0" fill="#2e2e2e"/>
<rect x="782.90" y="338.0" width="3.0" height="6.0" fill="#121212"/>
<rect x="787.15" y="339.0" width="1.5" height="9.0" fill="#2e2e2e"/>
<rect x="786.40" y="342.0" width="3.0" height="3.0" fill="#121212"/>
<rect x="790.65" y="334.0" width="1.5" height="12.0" fill="#8795c2"/>
<rect x="789.90" y="338.0" width="3.0" height="6.0" fill="#4a64a4"/>
<rect x="794.15" y="331.0" width="1.5" height="12.0" fill="#8795c2"/>
<rect x="793.40" y="337.0" width="3.0" height="2.0" fill="#4a64a4"/>
<rect x="797.65" y="336.0" width="1.5" height="18.0" fill="#2e2e2e"/>
<rect x="796.90" y="338.0" width="3.0" height="14.0" fill="#121212"/>
<rect x="801.15" y="332.0" width="1.5" height="23.0" fill="#8795c2"/>
<rect x="800.40" y="335.0" width="3.0" height="17.0" fill="#4a64a4"/>
<rect x="804.65" y="242.0" width="1.5" height="94.0" fill="#8795c2"/>
<rect x="803.90" y="251.0" width="3.0" height="84.0" fill="#4a64a4"/>
<rect x="808.15" y="242.0" width="1.5" height="30.0" fill="#2e2e2e"/>
<rect x="807.40" y="251.0" width="3.0" height="21.0" fill="#121212"/>
<rect x="811.65" y="262.0" width="1.5" height="90.0" fill="#2e2e2e"/>
<rect x="810.90" y="272.0" width="3.0" height="79.0" fill="#121212"/>
<rect x="815.15" y="327.0" width="1.5" height="53.0" fill="#8795c2"/>
<rect x="814.40" y="346.0" width="3.0" height="5.0" fill="#4a64a4"/>
<rect x="818.65" y="334.0" width="1.5" height="32.0" fill="#2e2e2e"/>
<rect x="817.90" y="346.0" width="3.0" height="13.0" fill="#121212"/>
<rect x="822.15" y="349.0" width="1.5" height="20.0" fill="#2e2e2e"/>
<rect x="821.40" y="359.0" width="3.0" height="5.0" fill="#121212"/>
<rect x="825.65" y="356.0" width="1.5" height="22.0" fill="#8795c2"/>
<rect x="824.90" y="358.0" width="3.0" height="6.0" fill="#4a64a4"/>
<rect x="829.15" y="351.0" width="1.5" height="15.0" fill="#8795c2"/>
<rect x="828.40" y="353.0" width="3.0" height="5.0" fill="#4a64a4"/>
<rect x="832.65" y="325.0" width="1.5" height="28.0" fill="#8795c2"/>
<rect x="831.90" y="338.0" width="3.0" height="15.0" fill="#4a64a4"/>
<rect x="836.15" y="289.0" width="1.5" height="49.0" fill="#8795c2"/>
<rect x="835.40" y="295.0" width="3.0" height="43.0" fill="#4a64a4"/>
<rect x="839.65" y="279.0" width="1.5" height="56.0" fill="#2e2e2e"/>
<rect x="838.90" y="295.0" width="3.0" height="31.0" fill="#121212"/>
<rect x="843.15" y="311.0" width="1.5" height="27.0" fill="#8795c2"/>
<rect x="842.40" y="316.0" width="3.0" height="10.0" fill="#4a64a4"/>
<rect x="846.65" y="302.0" width="1.5" height="25.0" fill="#2e2e2e"/>
<rect x="845.90" y="315.0" width="3.0" height="2.0" fill="#121212"/>
<rect x="850.15" y="307.0" width="1.5" height="14.0" fill="#8795c2"/>
<rect x="849.40" y="311.0" width="3.0" height="6.0" fill="#4a64a4"/>
<rect x="853.65" y="293.0" width="1.5" height="25.0" fill="#8795c2"/>
<rect x="852.90" y="295.0" width="3.0" height="16.0" fill="#4a64a4"/>
<rect x="857.15" y="287.0" width="1.5" height="52.0" fill="#2e2e2e"/>
<rect x="856.40" y="295.0" width="3.0" height="43.0" fill="#121212"/>
<rect x="860.65" y="332.0" width="1.5" height="25.0" fill="#2e2e2e"/>
<rect x="859.90" y="338.0" width="3.0" height="13.0" fill="#121212"/>
<rect x="864.15" y="338.0" width="1.5" height="24.0" fill="#8795c2"/>
<rect x="863.40" y="348.0" width="3.0" height="3.0" fill="#4a64a4"/>
<rect x="867.65" y="330.0" width="1.5" height="18.0" fill="#8795c2"/>
<rect x="866.90" y="340.0" width="3.0" height="8.0" fill="#4a64a4"/>
<rect x="871.15" y="337.0" width="1.5" height="14.0" fill="#2e2e2e"/>
<rect x="870.40" y="340.0" width="3.0" height="8.0" fill="#121212"/>
<rect x="874.65" y="332.0" width="1.5" height="18.0" fill="#8795c2"/>
<rect x="873.90" y="333.0" width="3.0" height="15.0" fill="#4a64a4"/>
<rect x="878.15" y="329.0" width="1.5" height="8.0" fill="#8795c2"/>
<rect x="877.40" y="332.0" width="3.0" height="1.5" fill="#4a64a4"/>
<rect x="881.65" y="315.0" width="1.5" height="23.0" fill="#8795c2"/>
<rect x="880.90" y="319.0" width="3.0" height="13.0" fill="#4a64a4"/>
<rect x="885.15" y="298.0" width="1.5" height="24.0" fill="#8795c2"/>
<rect x="884.40" y="300.0" width="3.0" height="19.0" fill="#4a64a4"/>
<rect x="888.65" y="292.0" width="1.5" height="24.0" fill="#8795c2"/>
<rect x="887.90" y="292.0" width="3.0" height="8.0" fill="#4a64a4"/>
<rect x="892.15" y="293.0" width="1.5" height="18.0" fill="#2e2e2e"/>
<rect x="891.40" y="298.0" width="3.0" height="3.0" fill="#121212"/>
<rect x="895.65" y="283.0" width="1.5" height="21.0" fill="#8795c2"/>
<rect x="894.90" y="284.0" width="3.0" height="17.0" fill="#4a64a4"/>
<line x1="421" y1="81.5" x2="926.5" y2="293" stroke="#3a3a3a" stroke-width="1.35"/>
<line x1="340" y1="537" x2="890.5" y2="387" stroke="#3a3a3a" stroke-width="1.35"/>
<path d="M893.9 203.6 V182.4 A3 3 0 0 1 896.9 179.4 H980 A3 3 0 0 1 983 182.4 V200.6 A3 3 0 0 1 980 203.6 H905.8 L884.3 219.2 L896.3 203.6 Z" fill="#fff" stroke="#5a76b6" stroke-width="2" stroke-linejoin="round"/>
<path d="M884.3 219.2 L897.3 204.2 L904.3 204.2 Z" fill="#7890cc"/>
<circle cx="884.3" cy="219.2" r="2" fill="#3a5aa0"/>
<path d="M901.4 415.1 V395.1 A3 3 0 0 1 904.4 392.1 H986.6 A3 3 0 0 1 989.6 395.1 V412.1 A3 3 0 0 1 986.6 415.1 H912 L891 431.2 L903 415.1 Z" fill="#fff" stroke="#5a76b6" stroke-width="2" stroke-linejoin="round"/>
<path d="M891 431.2 L904 415.7 L911 415.7 Z" fill="#7890cc"/>
<circle cx="891" cy="431.2" r="2" fill="#3a5aa0"/>
<circle cx="895.5" cy="523.3" r="9.6" fill="none" stroke="#735c82" stroke-width="1.7"/>
<path d="M898.3 518.2 L891.9 523.8 L895.3 523.8 L892.2 528.3 L899.7 522.7 L896.2 522.7 Z" fill="#8a45b0" stroke="#8a45b0" stroke-width="0.5" stroke-linejoin="round"/>
<rect x="1118" y="274" width="68" height="20.5" rx="1.5" fill="#2c5cec"/>
<rect x="1187" y="274" width="78" height="37" rx="1.5" fill="#2c5cec"/>
<rect x="0" y="710" width="1280" height="1" fill="#c6c6c6"/>
<defs><filter id="emb" x="-10%" y="-10%" width="130%" height="130%"><feOffset dx="0.8" dy="0.8" in="SourceAlpha" result="o"/><feFlood flood-color="#e6e6e6"/><feComposite in2="o" operator="in" result="sh"/><feMerge><feMergeNode in="sh"/><feMergeNode in="SourceGraphic"/></feMerge></filter></defs>
<g fill="none" stroke="#d4d4d4" stroke-width="1.3" stroke-linejoin="round">
<path d="M1140.8 671.8 L1153.6 685.2 L1140.8 698.6 L1127.4 685.2 Z"/>
<path d="M1132.6 681.6 L1140.8 677.8 L1148.8 681.6"/>
<path d="M1138 686 L1140.8 683.4 L1143.6 686 L1140.8 688.8 Z"/>
<path d="M1132 687.5 L1134.6 685.2 M1149.6 687.5 L1147 685.2"/>
</g>
<text x="11" y="20.5" font-size="13" font-weight="normal" fill="#363636" stroke="#363636" stroke-width="0.35" textLength="408.5" lengthAdjust="spacingAndGlyphs">novintrader1376 created with TradingView.com, Jan 02, 2026 04:49 UTC-5</text>
<text x="19.1" y="48" font-size="12.7" font-weight="normal" fill="#3a3a3a" stroke="#3a3a3a" stroke-width="0.2" textLength="180.2" lengthAdjust="spacingAndGlyphs">Bitcoin / TetherUS · 4h · Binance</text>
<text x="207.3" y="48" font-size="12.7" font-weight="normal" fill="#3a3a3a" stroke="#3a3a3a" stroke-width="0.2" textLength="8.6" lengthAdjust="spacingAndGlyphs">O</text>
<text x="215.9" y="48" font-size="12.7" font-weight="normal" fill="#5577bb" stroke="#5577bb" stroke-width="0.15" textLength="53.7" lengthAdjust="spacingAndGlyphs">88,857.60</text>
<text x="277.5" y="48" font-size="12.7" font-weight="normal" fill="#3a3a3a" stroke="#3a3a3a" stroke-width="0.2" textLength="8.6" lengthAdjust="spacingAndGlyphs">H</text>
<text x="286.1" y="48" font-size="12.7" font-weight="normal" fill="#5577bb" stroke="#5577bb" stroke-width="0.15" textLength="52.6" lengthAdjust="spacingAndGlyphs">89,326.66</text>
<text x="347.5" y="48" font-size="12.7" font-weight="normal" fill="#3a3a3a" stroke="#3a3a3a" stroke-width="0.2" textLength="7.2" lengthAdjust="spacingAndGlyphs">L</text>
<text x="354.7" y="48" font-size="12.7" font-weight="normal" fill="#5577bb" stroke="#5577bb" stroke-width="0.15" textLength="52.3" lengthAdjust="spacingAndGlyphs">88,758.94</text>
<text x="414.5" y="48" font-size="12.7" font-weight="normal" fill="#3a3a3a" stroke="#3a3a3a" stroke-width="0.2" textLength="8.6" lengthAdjust="spacingAndGlyphs">C</text>
<text x="423.1" y="48" font-size="12.7" font-weight="normal" fill="#5577bb" stroke="#5577bb" stroke-width="0.15" textLength="52.4" lengthAdjust="spacingAndGlyphs">89,279.23</text>
<text x="483.75" y="48" font-size="12.7" font-weight="normal" fill="#5577bb" stroke="#5577bb" stroke-width="0.15" textLength="92.5" lengthAdjust="spacingAndGlyphs">+421.62 (+0.47%)</text>
<text x="1196" y="67.0" font-size="14.8" font-weight="normal" fill="#262626" stroke="#262626" stroke-width="0.45" textLength="63.3" lengthAdjust="spacingAndGlyphs">95,000.00</text>
<text x="1196" y="105.7" font-size="14.8" font-weight="normal" fill="#262626" stroke="#262626" stroke-width="0.45" textLength="63.3" lengthAdjust="spacingAndGlyphs">94,000.00</text>
<text x="1196" y="144.3" font-size="14.8" font-weight="normal" fill="#262626" stroke="#262626" stroke-width="0.45" textLength="63.3" lengthAdjust="spacingAndGlyphs">93,000.00</text>
<text x="1196" y="183.0" font-size="14.8" font-weight="normal" fill="#262626" stroke="#262626" stroke-width="0.45" textLength="63.3" lengthAdjust="spacingAndGlyphs">92,000.00</text>
<text x="1196" y="221.6" font-size="14.8" font-weight="normal" fill="#262626" stroke="#262626" stroke-width="0.45" textLength="63.3" lengthAdjust="spacingAndGlyphs">91,000.00</text>
<text x="1196" y="260.3" font-size="14.8" font-weight="normal" fill="#262626" stroke="#262626" stroke-width="0.45" textLength="63.3" lengthAdjust="spacingAndGlyphs">90,000.00</text>
<text x="1196" y="337.6" font-size="14.8" font-weight="normal" fill="#262626" stroke="#262626" stroke-width="0.45" textLength="63.3" lengthAdjust="spacingAndGlyphs">88,000.00</text>
<text x="1196" y="376.3" font-size="14.8" font-weight="normal" fill="#262626" stroke="#262626" stroke-width="0.45" textLength="63.3" lengthAdjust="spacingAndGlyphs">87,000.00</text>
<text x="1196" y="415.0" font-size="14.8" font-weight="normal" fill="#262626" stroke="#262626" stroke-width="0.45" textLength="63.3" lengthAdjust="spacingAndGlyphs">86,000.00</text>
<text x="1196" y="453.6" font-size="14.8" font-weight="normal" fill="#262626" stroke="#262626" stroke-width="0.45" textLength="63.3" lengthAdjust="spacingAndGlyphs">85,000.00</text>
<text x="1196" y="492.3" font-size="14.8" font-weight="normal" fill="#262626" stroke="#262626" stroke-width="0.45" textLength="63.3" lengthAdjust="spacingAndGlyphs">84,000.00</text>
<text x="1196" y="531.0" font-size="14.8" font-weight="normal" fill="#262626" stroke="#262626" stroke-width="0.45" textLength="63.3" lengthAdjust="spacingAndGlyphs">83,000.00</text>
<text x="1196.3" y="590.5" font-size="14.8" font-weight="normal" fill="#262626" stroke="#262626" stroke-width="0.45" textLength="34.7" lengthAdjust="spacingAndGlyphs">40.00</text>
<text x="49.1" y="638" font-size="14.8" font-weight="normal" fill="#262626" stroke="#262626" stroke-width="0.45" textLength="14.5" lengthAdjust="spacingAndGlyphs">23</text>
<text x="112.0" y="638" font-size="14.8" font-weight="normal" fill="#262626" stroke="#262626" stroke-width="0.45" textLength="14.5" lengthAdjust="spacingAndGlyphs">26</text>
<text x="212.6" y="638" font-size="14.8" font-weight="normal" fill="#262626" stroke="#262626" stroke-width="0.45" textLength="22.8" lengthAdjust="spacingAndGlyphs">Dec</text>
<text x="283.2" y="638" font-size="14.8" font-weight="normal" fill="#262626" stroke="#262626" stroke-width="0.45" textLength="7.4" lengthAdjust="spacingAndGlyphs">4</text>
<text x="345.8" y="638" font-size="14.8" font-weight="normal" fill="#262626" stroke="#262626" stroke-width="0.45" textLength="7.2" lengthAdjust="spacingAndGlyphs">7</text>
<text x="405.9" y="638" font-size="14.8" font-weight="normal" fill="#262626" stroke="#262626" stroke-width="0.45" textLength="14.5" lengthAdjust="spacingAndGlyphs">10</text>
<text x="468.4" y="638" font-size="14.8" font-weight="normal" fill="#262626" stroke="#262626" stroke-width="0.45" textLength="14.5" lengthAdjust="spacingAndGlyphs">13</text>
<text x="531.8" y="638" font-size="14.8" font-weight="normal" fill="#262626" stroke="#262626" stroke-width="0.45" textLength="14.4" lengthAdjust="spacingAndGlyphs">16</text>
<text x="594.4" y="638" font-size="14.8" font-weight="normal" fill="#262626" stroke="#262626" stroke-width="0.45" textLength="14.5" lengthAdjust="spacingAndGlyphs">19</text>
<text x="656.8" y="638" font-size="14.8" font-weight="normal" fill="#262626" stroke="#262626" stroke-width="0.45" textLength="14.4" lengthAdjust="spacingAndGlyphs">22</text>
<text x="720.1" y="638" font-size="14.8" font-weight="normal" fill="#262626" stroke="#262626" stroke-width="0.45" textLength="14.5" lengthAdjust="spacingAndGlyphs">25</text>
<text x="782.5" y="638" font-size="14.8" font-weight="normal" fill="#262626" stroke="#262626" stroke-width="0.45" textLength="14.5" lengthAdjust="spacingAndGlyphs">28</text>
<text x="933.6" y="638" font-size="14.8" font-weight="normal" fill="#262626" stroke="#262626" stroke-width="0.45" textLength="7.4" lengthAdjust="spacingAndGlyphs">4</text>
<text x="995.3" y="638" font-size="14.8" font-weight="normal" fill="#262626" stroke="#262626" stroke-width="0.45" textLength="7.2" lengthAdjust="spacingAndGlyphs">7</text>
<text x="1055.0" y="638" font-size="14.8" font-weight="normal" fill="#262626" stroke="#262626" stroke-width="0.45" textLength="14.5" lengthAdjust="spacingAndGlyphs">10</text>
<text x="1118.2" y="638" font-size="14.8" font-weight="normal" fill="#262626" stroke="#262626" stroke-width="0.45" textLength="14.6" lengthAdjust="spacingAndGlyphs">13</text>
<text x="858.2" y="638" font-size="14.8" font-weight="bold" fill="#1e1e1e" textLength="33.4" lengthAdjust="spacingAndGlyphs">2026</text>
<text x="51" y="687" font-size="20.8" font-weight="normal" fill="#131722" stroke="#131722" stroke-width="0.9" textLength="122.7" lengthAdjust="spacingAndGlyphs">TradingView</text>
<text x="1188" y="694.5" font-size="25" font-weight="normal" fill="#b8b8b8" textLength="84.0" lengthAdjust="spacingAndGlyphs" filter="url(#emb)">luifer00</text>
<text x="1160.5" y="692" font-size="22" font-weight="normal" fill="#bcbcbc" textLength="19.2" lengthAdjust="spacingAndGlyphs" filter="url(#emb)">@</text>
<text x="904.5" y="195.6" font-size="15" font-weight="normal" fill="#4464a8" stroke="#4464a8" stroke-width="0.75" textLength="68.5" lengthAdjust="spacingAndGlyphs">90,957.59</text>
<text x="911.9" y="407.7" font-size="15" font-weight="normal" fill="#4464a8" stroke="#4464a8" stroke-width="0.75" textLength="67.2" lengthAdjust="spacingAndGlyphs">85,480.87</text>
<text x="1123" y="289.2" font-size="14" font-weight="normal" fill="#e2eaff" stroke="#e2eaff" stroke-width="0.6" textLength="57.0" lengthAdjust="spacingAndGlyphs">BTCUSDT</text>
<text x="1196.5" y="288.8" font-size="14.5" font-weight="normal" fill="#e2eaff" stroke="#e2eaff" stroke-width="0.6" textLength="63.5" lengthAdjust="spacingAndGlyphs">89,279.23</text>
<text x="1196.5" y="305" font-size="14.5" font-weight="normal" fill="#e2eaff" stroke="#e2eaff" stroke-width="0.6" textLength="55.5" lengthAdjust="spacingAndGlyphs">02:10:53</text>
</svg>
<svg style="position:absolute;left:12px;top:668px" width="36" height="22" viewBox="0 0 36 22">
<path d="M0.5 4 H13 V19 H7 V9.5 H0.5 Z" fill="#131722"/>
<circle cx="17.7" cy="6.3" r="2.4" fill="#131722"/>
<path d="M24 4 H30.5 L25.5 19 H18.5 Z" fill="#131722"/>
</svg>



</body></html>
